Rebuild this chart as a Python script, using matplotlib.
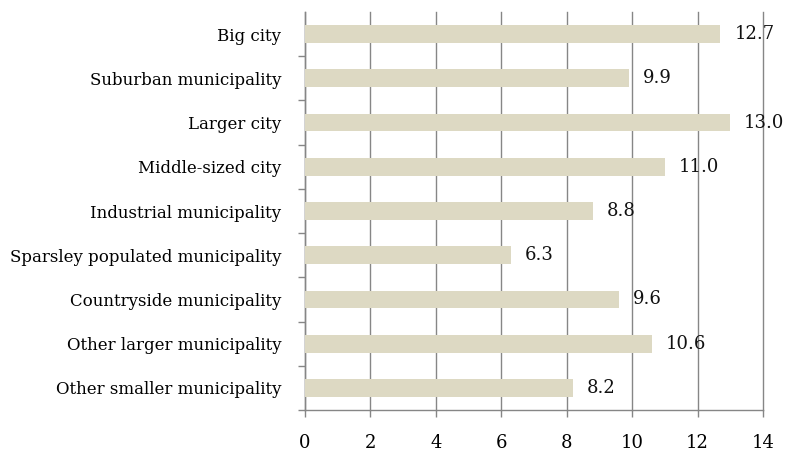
import matplotlib
matplotlib.use("Agg")
import matplotlib.pyplot as plt
import numpy as np

categories = ["Big city", "Suburban municipality", "Larger city", "Middle-sized city",
              "Industrial municipality", "Sparsley populated municipality",
              "Countryside municipality", "Other larger municipality",
              "Other smaller municipality"]
values = [12.7, 9.9, 13.0, 11.0, 8.8, 6.3, 9.6, 10.6, 8.2]
xticks = [0, 2, 4, 6, 8, 10, 12, 14]

plt.rcParams['font.family'] = ['DejaVu Serif']

fig = plt.figure(figsize=(7.87, 4.54), dpi=100)
ax = fig.add_axes([305/787, 1-410/454, (763-305)/787, (410-12)/454])

n = len(categories)
y = np.arange(n)[::-1]
ax.barh(y, values, height=0.4, color="#DDD9C3", zorder=3)
for yi, v in zip(y, values):
    ax.annotate(f"{v:.1f}", (v, yi), xytext=(10, 0), textcoords="offset points",
                va="center", ha="left", fontsize=13, color="#111111", zorder=4)

ax.set_xlim(0, 14)
ax.set_ylim(-0.5, n - 0.5)
ax.set_xticks(xticks)
ax.set_xticklabels([str(t) for t in xticks], fontsize=13)
ax.set_yticks(y)
ax.set_yticklabels(categories, fontsize=12)
ax.set_yticks(np.arange(n) - 0.5, minor=True)
ax.tick_params(axis='y', which='major', length=0, pad=17)
ax.tick_params(axis='y', which='minor', length=5, color="#868686", width=1)
ax.tick_params(axis='x', which='major', length=5, color="#868686", width=1, pad=12)
ax.grid(axis='x', color="#868686", linewidth=1, zorder=0)
for gl in ax.get_xgridlines():
    gl.set_clip_on(False)

for s in ['top', 'right']:
    ax.spines[s].set_visible(False)
for s in ['left', 'bottom']:
    ax.spines[s].set_color("#868686")
    ax.spines[s].set_linewidth(1)

fig.savefig("out.png", dpi=100)
